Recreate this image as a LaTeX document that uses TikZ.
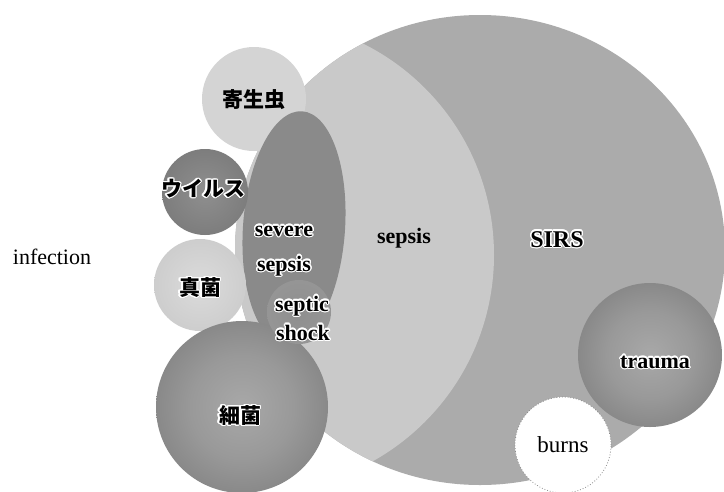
\documentclass[tikz,border=0pt]{standalone}
\usepackage{fontspec}
\setmainfont{Liberation Serif}
\newfontfamily\jp{Noto Sans CJK JP}
\usepackage[copies]{contour}
\contourlength{1.3pt}
\contournumber{16}
\usetikzlibrary{shapes.geometric}
\pgfdeclareradialshading{darkball}{\pgfpointorigin}{color(0bp)=(black!34); color(15bp)=(black!40); color(50bp)=(black!62)}
\pgfdeclareradialshading{shockball}{\pgfpointorigin}{color(0bp)=(black!44); color(40bp)=(black!40); color(50bp)=(black!24)}
\pgfdeclareradialshading{virusball}{\pgfpointorigin}{color(0bp)=(black!44); color(50bp)=(black!58)}
\pgfdeclareradialshading{lightball}{\pgfpointorigin}{color(0bp)=(black!14); color(50bp)=(black!25)}
\begin{document}
\begin{tikzpicture}[x=1pt,y=-1pt,
  lab/.style={font=\fontsize{22}{26}\selectfont\bfseries, inner sep=0pt, anchor=base},
  jlab/.style={font=\fontsize{21}{24}\selectfont\jp\bfseries, inner sep=0pt},
  ball/.style={circle, inner sep=0pt, draw=none}]
\useasboundingbox (0,0) rectangle (724,491);
\fill[white] (0,0) rectangle (724,491);
% SIRS
\node[ellipse, minimum width=490pt, minimum height=470pt, fill=black!33, inner sep=0pt] (sirs) at (480,250) {};
% sepsis = SIRS within infection
\begin{scope}
  \clip (480,250) ellipse (245 and 235);
  \fill[black!21] (258,255) circle (236);
\end{scope}
% infection circles
\node[ball, minimum size=104pt, fill=black!17] (para) at (254,99) {};
\node[ellipse, minimum width=102pt, minimum height=234pt, fill=black!46, inner sep=0pt, rotate=-4] (severe) at (294,228) {};
\node[ball, minimum size=86pt, shading=virusball] (virus) at (205,192) {};
\node[ball, minimum size=92pt, shading=lightball] (fungi) at (200,285) {};
\node[ball, minimum size=172pt, shading=darkball] (bact) at (242,407) {};
\node[ball, minimum size=64pt, shading=shockball] (shock) at (299,312) {};
% other causes
\node[ball, minimum size=144pt, shading=darkball] (trauma) at (650,355) {};
\node[ball, minimum size=96pt, fill=white, draw=black!45, dotted, line width=0.8pt] (burns) at (563,445) {};
% labels
\node[jlab] (tpara) at (254,100) {寄生虫};
\node[jlab] (tvirus) at (203,189) {\contour{white}{ウイルス}};
\node[jlab] (tfungi) at (200,288) {\contour{white}{真菌}};
\node[jlab] (tbact) at (240,416) {\contour{white}{細菌}};
\node[lab] (tsev1) at (284,236) {\contour{white}{severe}};
\node[lab] (tsev2) at (284,271) {\contour{white}{sepsis}};
\node[lab] (tsep1) at (302,311) {\contour{white}{septic}};
\node[lab] (tsep2) at (303,340) {\contour{white}{shock}};
\node[lab] (tsepsis) at (404,243) {sepsis};
\node[lab, font=\fontsize{24}{28}\selectfont\bfseries] (tsirs) at (557,247) {\contour{white}{SIRS}};
\node[lab] (ttrauma) at (655,368) {\contour{white}{trauma}};
\node[font=\fontsize{23}{26}\selectfont, inner sep=0pt, anchor=base] (tburns) at (563,452) {burns};
\node[font=\fontsize{22}{26}\selectfont, inner sep=0pt, anchor=base] (tinf) at (52,264) {infection};
\end{tikzpicture}
\end{document}
